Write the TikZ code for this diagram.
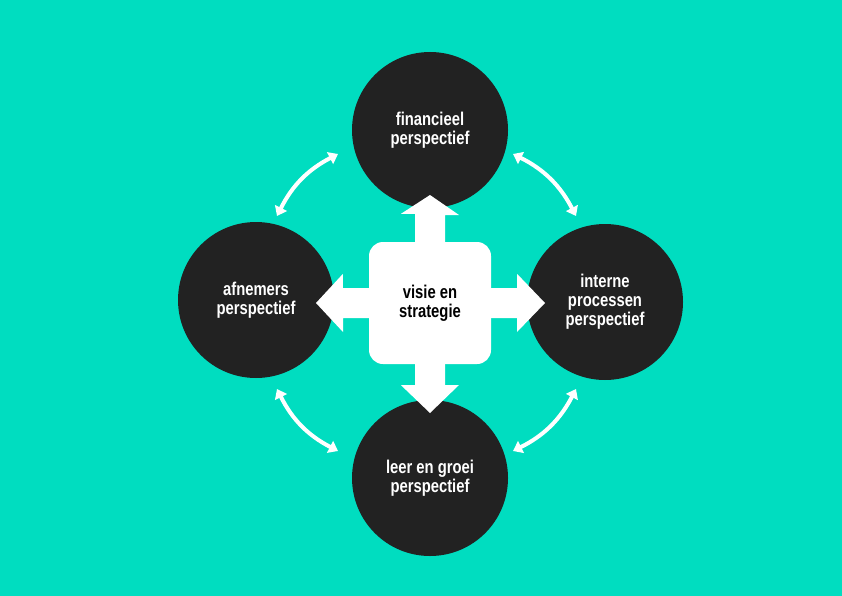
\documentclass[tikz,border=0pt]{standalone}
\usepackage{fontspec}
\setmainfont{Liberation Sans}[FakeStretch=0.8]
\usetikzlibrary{arrows.meta}
\definecolor{bgturq}{RGB}{0,221,192}
\definecolor{disc}{RGB}{34,34,34}
\begin{document}
\begin{tikzpicture}[x=1pt,y=-1pt]
\tikzstyle{perspective}=[circle, fill=disc, minimum size=156pt, text=white, align=center, font=\bfseries\fontsize{18.5}{19}\selectfont]
\tikzstyle{swap}=[white, line width=4pt, {Triangle[length=9pt,width=13pt]}-{Triangle[length=9pt,width=13pt]}]
\tikzstyle{blockarrow}=[fill=white]
\fill[bgturq] (0,0) rectangle (842,596);
\node[perspective] (fin) at (430,130) {financieel\\perspectief};
\node[perspective] (afn) at (256,300) {afnemers\\perspectief};
\node[perspective] (int) at (605,302) {interne\\processen\\perspectief};
\node[perspective] (leer) at (430,478) {leer en groei\\perspectief};
\node[fill=white, rounded corners=14pt, minimum size=122pt, align=center, font=\bfseries\fontsize{18.5}{19}\selectfont] (vis) at (430,303) {visie en\\strategie};
% block arrows
\fill[blockarrow] (vis.north) ++(-15,1) -- ++(0,-29) -- ++(-14,0) -- (430,195) -- (459,215) -- ++(-14,0) -- ++(0,29) -- cycle;
\fill[blockarrow] (vis.south) ++(-15,-1) -- ++(0,22) -- ++(-14,0) -- (430,413) -- (459,385) -- ++(-14,0) -- ++(0,-22) -- cycle;
\fill[blockarrow] (vis.west) ++(1,-15) -- ++(-27,0) -- ++(0,-14) -- (316,303) -- (343,332) -- ++(0,-14) -- ++(27,0) -- cycle;
\fill[blockarrow] (vis.east) ++(-1,-15) -- ++(27,0) -- ++(0,-14) -- (545,303) -- (517,332) -- ++(0,-14) -- ++(-27,0) -- cycle;
% curved arrows
\coordinate (a1) at (338,154); \coordinate (a2) at (277,216);
\coordinate (b1) at (513,154); \coordinate (b2) at (576,216);
\coordinate (c1) at (277,389); \coordinate (c2) at (338,451);
\coordinate (d1) at (576,389); \coordinate (d2) at (513,451);
\draw[swap] (a1) to[bend right=18] (a2);
\draw[swap] (b1) to[bend left=18] (b2);
\draw[swap] (c1) to[bend right=18] (c2);
\draw[swap] (d1) to[bend left=18] (d2);
\end{tikzpicture}
\end{document}
